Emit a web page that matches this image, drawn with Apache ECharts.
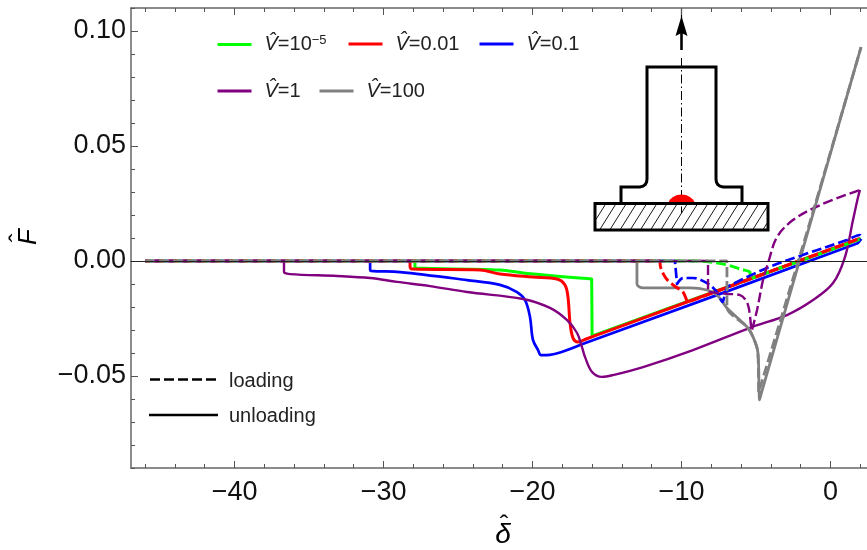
<!DOCTYPE html>
<html>
<head>
<meta charset="utf-8">
<style>html,body{margin:0;padding:0;background:#fff}#c{width:867px;height:550px}</style>
<script src="https://cdn.jsdelivr.net/npm/echarts@6/dist/echarts.min.js"></script>
</head>
<body>
<div id="c"></div>
<script>
// tick values
const xMajor = [-40, -30, -20, -10, 0];
const xMinor = [-46, -44, -42, -38, -36, -34, -32, -28, -26, -24, -22, -18, -16, -14, -12, -8, -6, -4, -2, 2];
const yMajor = [-0.05, 0, 0.05, 0.10];
const yMinor = [-0.09, -0.08, -0.07, -0.06, -0.04, -0.03, -0.02, -0.01, 0.01, 0.02, 0.03, 0.04, 0.06, 0.07, 0.08, 0.09, 0.11];

// series names
const names = ['V̂=10⁻⁵', 'V̂=0.01', 'V̂=0.1', 'V̂=1', 'V̂=100'];

// unloading curves [delta, F]; nearby points keep corners tight when smoothing
const greenUnload = [[2.05,.0096],[-15.8,-.0321],[-16.0,-.0326],[-16.0,-.03255],[-16.03,-.00785],[-16.035,-.0078],[-20.64,-.0052],[-22.18,-.0039],[-27.89,-.0030],[-27.89,-.00295],[-27.89,0]];
const redUnload = [[1.98,.0098],[-15,-.0306],[-16.4,-.0339],[-16.95,-.0352],[-17.28,-.0335],[-17.48,-.0270],[-17.62,-.0157],[-17.82,-.0104],[-18.36,-.0078],[-19.97,-.0070],[-22.18,-.0057],[-23.52,-.0039],[-28.09,-.0035],[-28.22,-.0025],[-28.22,0]];
const blueUnload = [[1.98,.0089],[1.78,.0076],[-16.5,-.0358],[-18.15,-.0398],[-18.83,-.0408],[-19.43,-.0409],[-19.63,-.0387],[-19.97,-.0343],[-20.17,-.0243],[-20.5,-.0170],[-21.04,-.0135],[-22.18,-.0104],[-24.4,-.0083],[-28.89,-.0048],[-30.84,-.0043],[-30.9,-.0035],[-30.9,0]];
const purpleUnload = [[1.98,.0309],[1.85,.0278],[1.51,.0178],[.97,.0017],[.17,-.0096],[-1.17,-.0170],[-2.92,-.0235],[-5.27,-.0287],[-9.23,-.0387],[-12.58,-.0461],[-14.6,-.0496],[-15.34,-.0504],[-16.0,-.0483],[-16.48,-.0417],[-16.68,-.0374],[-17.01,-.0313],[-17.68,-.0257],[-18.83,-.0204],[-20.64,-.0165],[-24.4,-.0135],[-26.88,-.0109],[-29.09,-.0091],[-30.9,-.0074],[-33.12,-.0065],[-36.28,-.0057],[-36.68,-.0048],[-36.68,-.0040],[-36.68,0]];
const grayUnload = [[2.05,.0930],[-4.65,-.0577],[-4.77,-.0604],[-4.79,-.0570],[-4.87,-.0400],[-5.2,-.0330],[-5.6,-.0287],[-6.95,-.0204],[-7.62,-.0148],[-8.29,-.0126],[-9.43,-.0117],[-12.58,-.0117],[-12.99,-.0100],[-12.99,0]];

// loading curves [delta, F]
const greenLoad = [[-46,0],[-9.23,0],[-8.09,-.0004],[-6.95,-.0017],[-6.07,-.0035],[-5.4,-.0048],[-5.4,-.00485],[-5.4,-.00775],[-5.398,-.0078],[2.05,.0096]];
const redLoad = [[-46,0],[-11.44,0],[-11.44,-.00005],[-11.44,-.0009],[-11.1,-.0070],[-10.57,-.0104],[-9.9,-.0135],[-9.56,-.0178],[-9.558,-.01775],[1.98,.0098]];
const blueLoad = [[-46,0],[-10.44,0],[-10.44,-.00005],[-10.3,-.00995],[-10.298,-.0100],[-9.9,-.0074],[-9.23,-.0074],[-8.29,-.0096],[-7.62,-.0135],[-7.22,-.0178],[-7.218,-.01775],[-6.95,-.0113],[-6.948,-.01125],[-4.26,-.0030],[-2.05,.0022],[1.1,.0091],[1.98,.0113],[2.1,.0100],[1.98,.0089]];
const purpleLoad = [[-46,0],[-8.22,0],[-8.22,-.00005],[-8.22,-.01345],[-8.218,-.0135],[-6.95,-.0143],[-6.07,-.0148],[-5.54,-.0191],[-5.27,-.0300],[-5.268,-.02995],[-4.93,-.0213],[-4.53,-.0083],[-4.19,-.0009],[-3.59,.0104],[-2.52,.0178],[-.7,.0243],[1.98,.0309]];
const grayLoad = [[-46,0],[-6.95,0],[-6.95,-.00005],[-6.95,-.0200],[-6.948,-.0204],[-5.6,-.0287],[-5.2,-.0330],[-4.87,-.0400],[-4.82,-.0570],[-4.818,-.05695],[-1.4,.0165],[2.05,.0930]];

const colors = ['#00ff00', '#ff0000', '#0000ff', '#800080', '#808080'];
const widths = [3, 3, 2.7, 2.4, 2.8];
const dashOffsets = [3, 5, 9, 7, 0];
const unload = [greenUnload, redUnload, blueUnload, purpleUnload, grayUnload];
const load = [greenLoad, redLoad, blueLoad, purpleLoad, grayLoad];

const FONT = '"Liberation Sans", Arial, sans-serif';
const SMOOTH = 0.35;
const series = [];
names.forEach((n, i) => series.push({
  name: n, type: 'line', data: unload[i], showSymbol: false, symbol: 'none', z: 2 + i * 0.01, smooth: SMOOTH,
  lineStyle: { color: colors[i], width: widths[i], join: 'round' }, itemStyle: { color: colors[i] }
}));
names.forEach((n, i) => series.push({
  name: n, type: 'line', data: load[i], showSymbol: false, symbol: 'none', z: 2.1 + i * 0.01, smooth: SMOOTH,
  lineStyle: { color: colors[i], width: widths[i], type: [10, 4], dashOffset: dashOffsets[i] }, itemStyle: { color: colors[i] }
}));

const legendPos = [[216, 34], [347, 34], [478, 34], [216, 81], [318, 81]];
const legends = names.map((n, i) => ({
  show: true, data: [n], left: legendPos[i][0], top: legendPos[i][1], itemWidth: 34, itemHeight: 22, itemGap: 0,
  padding: 0, selectedMode: false, itemStyle: { opacity: 0 }, lineStyle: { width: 3, opacity: 1 },
  formatter: name => {
    const m = name.split('=');
    const val = m[1] === '10⁻⁵' ? '{n|=10}{s|−5}' : '{n|=' + m[1] + '}';
    return '{v|V̂}' + val;
  },
  textStyle: {
    color: '#222', fontFamily: FONT, fontSize: 20, padding: [0, 0, 0, 8],
    rich: {
      v: { fontFamily: FONT, fontStyle: 'italic', fontSize: 20, color: '#222' },
      n: { fontFamily: FONT, fontSize: 20, color: '#222' },
      s: { fontFamily: FONT, fontSize: 13, color: '#222', verticalAlign: 'top', padding: [0, 0, 8, 0] }
    }
  }
}));

const axisLine = { show: true, onZero: false, lineStyle: { color: '#666', width: 1.5 } };
const hiddenLabel = { show: false };
function xAxis(extra) {
  return Object.assign({ type: 'value', min: -46.95, max: 2.45, splitLine: { show: false }, axisLabel: hiddenLabel, axisLine: { show: false, onZero: false }, axisTick: { show: false } }, extra);
}
function yAxis(extra) {
  return Object.assign({ type: 'value', min: -0.09, max: 0.11, splitLine: { show: false }, axisLabel: hiddenLabel, axisLine: { show: false, onZero: false }, axisTick: { show: false } }, extra);
}
const tick = (vals, len) => ({ show: true, inside: true, length: len, customValues: vals, lineStyle: { color: '#555', width: 1 } });

// inset schematic and annotation graphics
const graphics = [];
const blk = (w) => ({ stroke: '#000', lineWidth: w, fill: null });
graphics.push({ type: 'line', shape: { x1: 681.5, y1: 8, x2: 681.5, y2: 20 }, style: blk(1.2) });
graphics.push({ type: 'line', shape: { x1: 681.5, y1: 32, x2: 681.5, y2: 50 }, style: blk(2.6) });
graphics.push({ type: 'polygon', shape: { points: [[681.5, 16], [687.5, 36], [681.5, 33], [675.5, 36]] }, style: { fill: '#000' } });
graphics.push({ type: 'line', shape: { x1: 681.5, y1: 58, x2: 681.5, y2: 213 }, style: { stroke: '#000', lineWidth: 1, lineDash: [9, 3, 1.5, 3] } });
graphics.push({ type: 'polyline', shape: { points: [[621, 203], [621, 187], [640, 187], [643, 186.2], [645.3, 184.5], [646.6, 182], [647, 179], [647, 67], [716, 67], [716, 179], [716.4, 182], [717.7, 184.5], [720, 186.2], [723, 187], [742, 187], [742, 203]] }, style: blk(3) });
graphics.push({ type: 'polygon', shape: { points: [[668, 203], [670, 199.5], [673, 197], [677, 195], [681.5, 194.5], [686, 195], [690, 197], [693, 199.5], [695, 203]] }, style: { fill: '#ff0000' } });
for (let xb = 590; xb < 770; xb += 10.2) {
  let x1 = xb, y1 = 229, x2 = xb + 15, y2 = 205;
  if (x1 < 596) { y1 = 229 - (596 - x1) * 24 / 15; x1 = 596; }
  if (x2 > 767) { y2 = 205 + (x2 - 767) * 24 / 15; x2 = 767; }
  if (x1 < x2 && x1 < 767) graphics.push({ type: 'line', shape: { x1, y1, x2, y2 }, style: blk(0.9) });
}
graphics.push({ type: 'rect', shape: { x: 595, y: 203.5, width: 173, height: 26.5 }, style: blk(3) });
// loading / unloading key
graphics.push({ type: 'line', shape: { x1: 150, y1: 379.5, x2: 216, y2: 379.5 }, style: { stroke: '#000', lineWidth: 2.6, lineDash: [10, 4] } });
graphics.push({ type: 'line', shape: { x1: 149, y1: 415, x2: 218, y2: 415 }, style: { stroke: '#000', lineWidth: 2.6 } });
graphics.push({ type: 'text', x: 229, y: 381, style: { text: 'loading', fill: '#222', font: '20px ' + FONT, verticalAlign: 'middle' } });
graphics.push({ type: 'text', x: 229, y: 416, style: { text: 'unloading', fill: '#222', font: '20px ' + FONT, verticalAlign: 'middle' } });
// axis titles
graphics.push({ type: 'text', x: 503, y: 535, style: { text: 'δ', fill: '#000', font: 'italic 28px ' + FONT, align: 'center', verticalAlign: 'middle' } });
graphics.push({ type: 'text', x: 504, y: 526, style: { text: 'ˆ', fill: '#000', font: '26px ' + FONT, align: 'center', verticalAlign: 'middle' } });
graphics.push({ type: 'text', x: 29, y: 237, rotation: Math.PI / 2, style: { text: 'F', fill: '#000', font: 'italic 26px ' + FONT, align: 'center', verticalAlign: 'middle' } });
graphics.push({ type: 'text', x: 20, y: 238, rotation: Math.PI / 2, style: { text: 'ˆ', fill: '#000', font: '26px ' + FONT, align: 'center', verticalAlign: 'middle' } });

const chart = echarts.init(document.getElementById('c'), null, { renderer: 'canvas' });
chart.setOption({
  animation: false,
  backgroundColor: '#fff',
  grid: { left: 131, right: 0, top: 8, bottom: 82, containLabel: false },
  legend: legends,
  xAxis: [
    xAxis({ position: 'bottom', axisLine, axisTick: tick(xMajor, 7),
      axisLabel: { show: true, customValues: xMajor, margin: 11, color: '#111', fontFamily: FONT, fontSize: 27, formatter: v => v < 0 ? '−' + Math.abs(v) : String(v) } }),
    xAxis({ position: 'bottom', axisTick: tick(xMinor, 4) }),
    xAxis({ position: 'top', axisLine, axisTick: tick(xMajor, 7) }),
    xAxis({ position: 'top', axisTick: tick(xMinor, 4) }),
    xAxis({ position: 'bottom', z: 5, axisLine: { show: true, onZero: true, lineStyle: { color: '#222', width: 1.2 } } })
  ],
  yAxis: [
    yAxis({ position: 'left', axisLine, axisTick: tick(yMajor, 7),
      axisLabel: { show: true, customValues: yMajor, margin: 5, color: '#111', fontFamily: FONT, fontSize: 27, padding: [3, 0, 0, 0], formatter: v => (v < 0 ? '−' : '') + Math.abs(v).toFixed(2) } }),
    yAxis({ position: 'left', axisTick: tick(yMinor, 4) })
  ],
  series,
  graphic: { elements: graphics }
});
</script>
</body>
</html>
